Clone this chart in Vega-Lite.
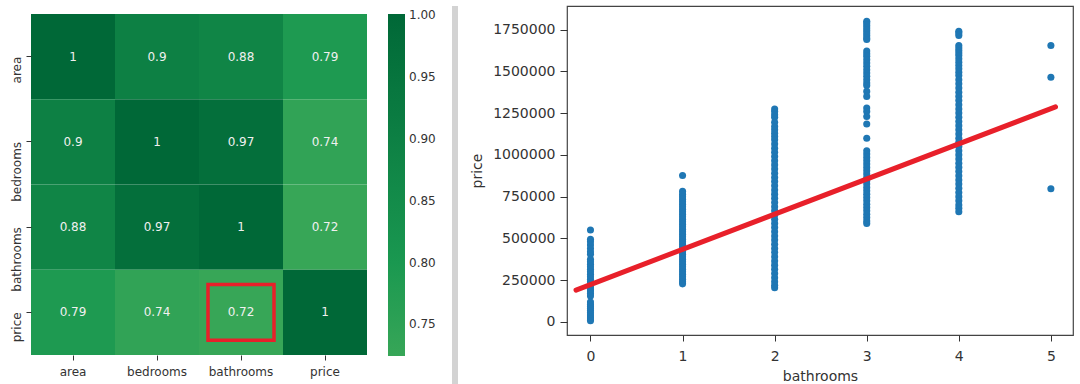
{
  "$schema": "https://vega.github.io/schema/vega-lite/v6.json",
  "padding": {"left": 10, "top": 5, "right": 0, "bottom": 0},
  "background": "white",
  "config": {
    "font": "DejaVu Sans",
    "view": {"stroke": null},
    "axis": {"labelColor": "#333", "titleColor": "#333", "tickColor": "#333", "domain": false, "grid": false, "titleFontWeight": "normal"}
  },
  "datasets": {
    "corr": [
      {"row": "area", "col": "area", "value": 1},
      {"row": "area", "col": "bedrooms", "value": 0.9},
      {"row": "area", "col": "bathrooms", "value": 0.88},
      {"row": "area", "col": "price", "value": 0.79},
      {"row": "bedrooms", "col": "area", "value": 0.9},
      {"row": "bedrooms", "col": "bedrooms", "value": 1},
      {"row": "bedrooms", "col": "bathrooms", "value": 0.97},
      {"row": "bedrooms", "col": "price", "value": 0.74},
      {"row": "bathrooms", "col": "area", "value": 0.88},
      {"row": "bathrooms", "col": "bedrooms", "value": 0.97},
      {"row": "bathrooms", "col": "bathrooms", "value": 1},
      {"row": "bathrooms", "col": "price", "value": 0.7245},
      {"row": "price", "col": "area", "value": 0.79},
      {"row": "price", "col": "bedrooms", "value": 0.74},
      {"row": "price", "col": "bathrooms", "value": 0.7245},
      {"row": "price", "col": "price", "value": 1}
    ],
    "fit": [
      {"bathrooms": -0.157, "price": 191000},
      {"bathrooms": 5.05, "price": 1287000}
    ],
    "houses": [
      {"bathrooms": 0, "price": 550000}, {"bathrooms": 0, "price": 495000}, {"bathrooms": 0, "price": 480000}, {"bathrooms": 0, "price": 460000},
      {"bathrooms": 0, "price": 440000}, {"bathrooms": 0, "price": 420000}, {"bathrooms": 0, "price": 405000}, {"bathrooms": 0, "price": 375000},
      {"bathrooms": 0, "price": 360000}, {"bathrooms": 0, "price": 345000}, {"bathrooms": 0, "price": 330000}, {"bathrooms": 0, "price": 315000},
      {"bathrooms": 0, "price": 300000}, {"bathrooms": 0, "price": 285000}, {"bathrooms": 0, "price": 270000}, {"bathrooms": 0, "price": 255000},
      {"bathrooms": 0, "price": 240000}, {"bathrooms": 0, "price": 225000}, {"bathrooms": 0, "price": 210000}, {"bathrooms": 0, "price": 195000},
      {"bathrooms": 0, "price": 185000}, {"bathrooms": 0, "price": 170000}, {"bathrooms": 0, "price": 156000}, {"bathrooms": 0, "price": 120000},
      {"bathrooms": 0, "price": 105000}, {"bathrooms": 0, "price": 92000}, {"bathrooms": 0, "price": 80000}, {"bathrooms": 0, "price": 68000},
      {"bathrooms": 0, "price": 55000}, {"bathrooms": 0, "price": 42000}, {"bathrooms": 0, "price": 30000}, {"bathrooms": 0, "price": 18000},
      {"bathrooms": 0, "price": 8000},
      {"bathrooms": 1, "price": 877000}, {"bathrooms": 1, "price": 782000}, {"bathrooms": 1, "price": 765000}, {"bathrooms": 1, "price": 750000},
      {"bathrooms": 1, "price": 735000}, {"bathrooms": 1, "price": 720000}, {"bathrooms": 1, "price": 705000}, {"bathrooms": 1, "price": 690000},
      {"bathrooms": 1, "price": 675000}, {"bathrooms": 1, "price": 660000}, {"bathrooms": 1, "price": 645000}, {"bathrooms": 1, "price": 630000},
      {"bathrooms": 1, "price": 615000}, {"bathrooms": 1, "price": 600000}, {"bathrooms": 1, "price": 585000}, {"bathrooms": 1, "price": 570000},
      {"bathrooms": 1, "price": 555000}, {"bathrooms": 1, "price": 540000}, {"bathrooms": 1, "price": 525000}, {"bathrooms": 1, "price": 510000},
      {"bathrooms": 1, "price": 495000}, {"bathrooms": 1, "price": 480000}, {"bathrooms": 1, "price": 465000}, {"bathrooms": 1, "price": 450000},
      {"bathrooms": 1, "price": 435000}, {"bathrooms": 1, "price": 420000}, {"bathrooms": 1, "price": 405000}, {"bathrooms": 1, "price": 390000},
      {"bathrooms": 1, "price": 375000}, {"bathrooms": 1, "price": 360000}, {"bathrooms": 1, "price": 345000}, {"bathrooms": 1, "price": 330000},
      {"bathrooms": 1, "price": 315000}, {"bathrooms": 1, "price": 300000}, {"bathrooms": 1, "price": 285000}, {"bathrooms": 1, "price": 270000},
      {"bathrooms": 1, "price": 255000}, {"bathrooms": 1, "price": 240000}, {"bathrooms": 1, "price": 228000},
      {"bathrooms": 2, "price": 1275000}, {"bathrooms": 2, "price": 1260000}, {"bathrooms": 2, "price": 1240000}, {"bathrooms": 2, "price": 1225000},
      {"bathrooms": 2, "price": 1195000}, {"bathrooms": 2, "price": 1170000}, {"bathrooms": 2, "price": 1150000}, {"bathrooms": 2, "price": 1130000},
      {"bathrooms": 2, "price": 1110000}, {"bathrooms": 2, "price": 1090000}, {"bathrooms": 2, "price": 1065000}, {"bathrooms": 2, "price": 1040000},
      {"bathrooms": 2, "price": 1015000}, {"bathrooms": 2, "price": 990000}, {"bathrooms": 2, "price": 965000}, {"bathrooms": 2, "price": 940000},
      {"bathrooms": 2, "price": 915000}, {"bathrooms": 2, "price": 890000}, {"bathrooms": 2, "price": 865000}, {"bathrooms": 2, "price": 840000},
      {"bathrooms": 2, "price": 815000}, {"bathrooms": 2, "price": 790000}, {"bathrooms": 2, "price": 765000}, {"bathrooms": 2, "price": 740000},
      {"bathrooms": 2, "price": 715000}, {"bathrooms": 2, "price": 690000}, {"bathrooms": 2, "price": 665000}, {"bathrooms": 2, "price": 640000},
      {"bathrooms": 2, "price": 615000}, {"bathrooms": 2, "price": 590000}, {"bathrooms": 2, "price": 565000}, {"bathrooms": 2, "price": 540000},
      {"bathrooms": 2, "price": 515000}, {"bathrooms": 2, "price": 490000}, {"bathrooms": 2, "price": 465000}, {"bathrooms": 2, "price": 440000},
      {"bathrooms": 2, "price": 415000}, {"bathrooms": 2, "price": 390000}, {"bathrooms": 2, "price": 365000}, {"bathrooms": 2, "price": 340000},
      {"bathrooms": 2, "price": 315000}, {"bathrooms": 2, "price": 290000}, {"bathrooms": 2, "price": 265000}, {"bathrooms": 2, "price": 240000},
      {"bathrooms": 2, "price": 220000}, {"bathrooms": 2, "price": 205000},
      {"bathrooms": 3, "price": 1800000}, {"bathrooms": 3, "price": 1790000}, {"bathrooms": 3, "price": 1775000}, {"bathrooms": 3, "price": 1760000},
      {"bathrooms": 3, "price": 1745000}, {"bathrooms": 3, "price": 1730000}, {"bathrooms": 3, "price": 1715000}, {"bathrooms": 3, "price": 1700000},
      {"bathrooms": 3, "price": 1690000}, {"bathrooms": 3, "price": 1622000}, {"bathrooms": 3, "price": 1605000}, {"bathrooms": 3, "price": 1590000},
      {"bathrooms": 3, "price": 1570000}, {"bathrooms": 3, "price": 1550000}, {"bathrooms": 3, "price": 1530000}, {"bathrooms": 3, "price": 1510000},
      {"bathrooms": 3, "price": 1490000}, {"bathrooms": 3, "price": 1470000}, {"bathrooms": 3, "price": 1450000}, {"bathrooms": 3, "price": 1430000},
      {"bathrooms": 3, "price": 1415000}, {"bathrooms": 3, "price": 1380000}, {"bathrooms": 3, "price": 1350000}, {"bathrooms": 3, "price": 1280000},
      {"bathrooms": 3, "price": 1260000}, {"bathrooms": 3, "price": 1230000}, {"bathrooms": 3, "price": 1185000}, {"bathrooms": 3, "price": 1100000},
      {"bathrooms": 3, "price": 1025000}, {"bathrooms": 3, "price": 1005000}, {"bathrooms": 3, "price": 985000}, {"bathrooms": 3, "price": 965000},
      {"bathrooms": 3, "price": 945000}, {"bathrooms": 3, "price": 925000}, {"bathrooms": 3, "price": 905000}, {"bathrooms": 3, "price": 885000},
      {"bathrooms": 3, "price": 865000}, {"bathrooms": 3, "price": 845000}, {"bathrooms": 3, "price": 825000}, {"bathrooms": 3, "price": 805000},
      {"bathrooms": 3, "price": 785000}, {"bathrooms": 3, "price": 765000}, {"bathrooms": 3, "price": 745000}, {"bathrooms": 3, "price": 725000},
      {"bathrooms": 3, "price": 705000}, {"bathrooms": 3, "price": 685000}, {"bathrooms": 3, "price": 665000}, {"bathrooms": 3, "price": 645000},
      {"bathrooms": 3, "price": 625000}, {"bathrooms": 3, "price": 605000}, {"bathrooms": 3, "price": 590000},
      {"bathrooms": 4, "price": 1740000}, {"bathrooms": 4, "price": 1730000}, {"bathrooms": 4, "price": 1715000}, {"bathrooms": 4, "price": 1655000},
      {"bathrooms": 4, "price": 1640000}, {"bathrooms": 4, "price": 1625000}, {"bathrooms": 4, "price": 1610000}, {"bathrooms": 4, "price": 1595000},
      {"bathrooms": 4, "price": 1575000}, {"bathrooms": 4, "price": 1555000}, {"bathrooms": 4, "price": 1535000}, {"bathrooms": 4, "price": 1515000},
      {"bathrooms": 4, "price": 1495000}, {"bathrooms": 4, "price": 1475000}, {"bathrooms": 4, "price": 1450000}, {"bathrooms": 4, "price": 1425000},
      {"bathrooms": 4, "price": 1400000}, {"bathrooms": 4, "price": 1375000}, {"bathrooms": 4, "price": 1350000}, {"bathrooms": 4, "price": 1325000},
      {"bathrooms": 4, "price": 1300000}, {"bathrooms": 4, "price": 1275000}, {"bathrooms": 4, "price": 1250000}, {"bathrooms": 4, "price": 1225000},
      {"bathrooms": 4, "price": 1200000}, {"bathrooms": 4, "price": 1175000}, {"bathrooms": 4, "price": 1150000}, {"bathrooms": 4, "price": 1125000},
      {"bathrooms": 4, "price": 1100000}, {"bathrooms": 4, "price": 1075000}, {"bathrooms": 4, "price": 1050000}, {"bathrooms": 4, "price": 1025000},
      {"bathrooms": 4, "price": 1000000}, {"bathrooms": 4, "price": 975000}, {"bathrooms": 4, "price": 950000}, {"bathrooms": 4, "price": 925000},
      {"bathrooms": 4, "price": 900000}, {"bathrooms": 4, "price": 875000}, {"bathrooms": 4, "price": 850000}, {"bathrooms": 4, "price": 825000},
      {"bathrooms": 4, "price": 800000}, {"bathrooms": 4, "price": 775000}, {"bathrooms": 4, "price": 750000}, {"bathrooms": 4, "price": 725000},
      {"bathrooms": 4, "price": 700000}, {"bathrooms": 4, "price": 680000}, {"bathrooms": 4, "price": 660000},
      {"bathrooms": 5, "price": 1655000}, {"bathrooms": 5, "price": 1465000}, {"bathrooms": 5, "price": 797000}
    ]
  },
  "bounds": "flush",
  "spacing": 85,
  "hconcat": [
    {
      "width": 336,
      "height": 349,
      "data": {"name": "corr"},
      "encoding": {
        "x": {"field": "col", "type": "nominal", "sort": ["area", "bedrooms", "bathrooms", "price"],
              "scale": {"paddingInner": 0, "paddingOuter": 0},
              "axis": {"title": null, "labelAngle": 0, "labelFontSize": 12, "tickSize": 5, "labelPadding": 6}},
        "y": {"field": "row", "type": "nominal", "sort": ["area", "bedrooms", "bathrooms", "price"],
              "scale": {"paddingInner": 0, "paddingOuter": 0.047, "align": 1},
              "axis": {"title": null, "labelAngle": -90, "labelAlign": "right", "labelFontSize": 12, "tickSize": 5, "labelPadding": 3}}
      },
      "layer": [
        {
          "mark": {"type": "rect"},
          "encoding": {
            "color": {"field": "value", "type": "quantitative",
                      "scale": {"domain": [0.7245, 0.8, 1.001], "range": ["#37a657", "#1a9850", "#006837"], "interpolate": "rgb"},
                      "legend": {"title": null, "orient": "none", "legendX": 357, "legendY": 8, "direction": "vertical",
                                 "gradientLength": 342, "gradientThickness": 17, "gradientStrokeWidth": 0,
                                 "values": [0.75, 0.8, 0.85, 0.9, 0.95, 1], "format": ".2f",
                                 "labelFontSize": 12, "labelColor": "#333", "labelOffset": 4}}
          }
        },
        {
          "mark": {"type": "text", "fontSize": 12, "color": "#f0f0f0"},
          "encoding": {"text": {"field": "value", "type": "quantitative", "format": ".2~g"}}
        },
        {
          "transform": [{"filter": "datum.row === 'price' && datum.col === 'bathrooms'"}],
          "mark": {"type": "point", "shape": "M-1,-0.848H1V0.848H-1Z", "size": 4356, "filled": false, "color": "#e8202a", "strokeWidth": 3.5, "opacity": 1}
        }
      ]
    },
    {
      "bounds": "flush",
      "spacing": 109,
      "hconcat": [
        {
          "width": 6,
          "height": 384,
          "data": {"values": [{}]},
          "mark": {"type": "point", "opacity": 0},
          "view": {"fill": "#d3d3d3", "stroke": null}
        },
        {
          "width": 506,
          "height": 329,
          "view": {"stroke": "#444", "strokeWidth": 1.2},
          "layer": [
            {
              "data": {"name": "houses"},
              "mark": {"type": "circle", "size": 50, "color": "#1f77b4", "opacity": 1},
              "encoding": {
                "x": {"field": "bathrooms", "type": "quantitative",
                      "scale": {"domain": [-0.255, 5.24], "nice": false, "zero": false},
                      "axis": {"title": "bathrooms", "values": [0, 1, 2, 3, 4, 5], "format": "d", "labelFontSize": 14, "titleFontSize": 14,
                               "tickSize": 6, "labelPadding": 8, "titlePadding": 6, "labelFlush": false}},
                "y": {"field": "price", "type": "quantitative",
                      "scale": {"domain": [-78000, 1891000], "nice": false, "zero": false},
                      "axis": {"title": "price", "values": [0, 250000, 500000, 750000, 1000000, 1250000, 1500000, 1750000], "format": "d",
                               "labelFontSize": 14, "titleFontSize": 14, "tickSize": 7, "labelPadding": 5, "titlePadding": 8, "labelFlush": false}}
              }
            },
            {
              "data": {"name": "fit"},
              "mark": {"type": "line", "color": "#e8202a", "strokeWidth": 5, "strokeCap": "round"},
              "encoding": {
                "x": {"field": "bathrooms", "type": "quantitative"},
                "y": {"field": "price", "type": "quantitative"}
              }
            }
          ]
        }
      ]
    }
  ]
}
